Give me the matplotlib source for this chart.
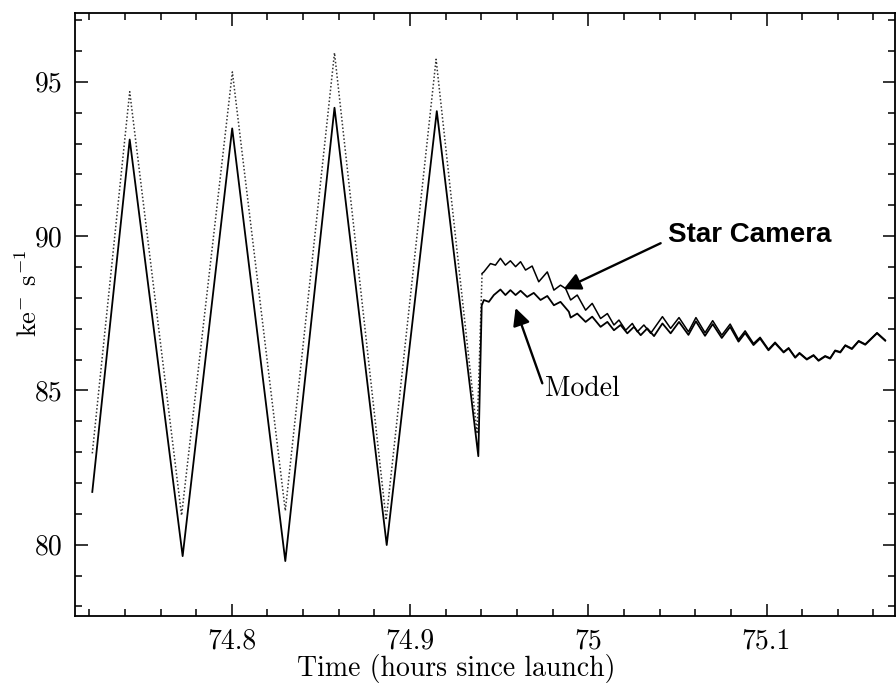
import matplotlib.pyplot as plt
from matplotlib.ticker import MultipleLocator, FuncFormatter

plt.rcParams['font.family'] = 'serif'
plt.rcParams['font.serif'] = ['cmr10']
plt.rcParams['mathtext.fontset'] = 'cm'
plt.rcParams['axes.formatter.use_mathtext'] = True

# model rate (solid line)
model_t = [74.7217, 74.7427, 74.7724, 74.8002, 74.8300, 74.8576, 74.8869, 74.9150,
           74.9383, 74.9402, 74.9414, 74.9442, 74.9470, 74.9507, 74.9535, 74.9563,
           74.9592, 74.9620, 74.9657, 74.9694, 74.9732, 74.9770, 74.9807, 74.9844,
           74.9891, 74.9901, 74.9938, 74.9985, 75.0022, 75.0069, 75.0107, 75.0144,
           75.0181, 75.0219, 75.0256, 75.0294, 75.0331, 75.0369, 75.0416, 75.0462,
           75.0509, 75.0562, 75.0604, 75.0655, 75.0698, 75.0749, 75.0796, 75.0843,
           75.0880, 75.0927, 75.0964, 75.1011, 75.1048, 75.1096, 75.1124, 75.1161,
           75.1185, 75.1226, 75.1264, 75.1292, 75.1329, 75.1357, 75.1385, 75.1414,
           75.1442, 75.1479, 75.1517, 75.1554, 75.1620, 75.1666]
model_v = [81.71, 93.13, 79.63, 93.49, 79.47, 94.16, 79.99, 94.05,
           82.87, 87.75, 87.93, 87.87, 88.09, 88.27, 88.09, 88.25,
           88.09, 88.23, 88.03, 88.16, 87.93, 88.06, 87.76, 87.87,
           87.55, 87.36, 87.49, 87.22, 87.39, 87.06, 87.22, 86.95,
           87.12, 86.85, 87.06, 86.79, 87.01, 86.76, 87.17, 86.85,
           87.22, 86.80, 87.24, 86.77, 87.15, 86.70, 87.06, 86.58,
           86.86, 86.47, 86.68, 86.30, 86.53, 86.23, 86.36, 86.06,
           86.20, 86.00, 86.13, 85.96, 86.10, 86.03, 86.28, 86.23,
           86.45, 86.34, 86.59, 86.48, 86.85, 86.61]

# star camera rate: dotted through the sawtooth, continuous after the jump
star_t = [74.7217, 74.7427, 74.7718, 74.8003, 74.8300, 74.8576, 74.8866, 74.9146,
          74.9376, 74.9404, 74.9414, 74.9451, 74.9479, 74.9507, 74.9535, 74.9563,
          74.9592, 74.9620, 74.9648, 74.9685, 74.9722, 74.9770, 74.9807, 74.9844,
          74.9873, 74.9901, 74.9938, 74.9985, 75.0022, 75.0069, 75.0107, 75.0144,
          75.0172, 75.0210, 75.0247, 75.0275, 75.0312, 75.0350, 75.0416, 75.0462,
          75.0509, 75.0562, 75.0604, 75.0655, 75.0698, 75.0749, 75.0796, 75.0843,
          75.0880, 75.0927, 75.0964, 75.1011, 75.1048, 75.1096, 75.1124, 75.1161,
          75.1185, 75.1226, 75.1264, 75.1292, 75.1329, 75.1357, 75.1385, 75.1414,
          75.1442, 75.1479, 75.1517, 75.1554, 75.1620, 75.1666]
star_v = [82.96, 94.68, 80.95, 95.32, 81.10, 95.94, 80.80, 95.73,
          83.60, 88.79, 88.84, 89.11, 89.06, 89.28, 89.06, 89.20,
          89.01, 89.17, 88.90, 89.03, 88.52, 88.84, 88.25, 88.41,
          88.30, 87.93, 88.09, 87.60, 87.82, 87.33, 87.49, 87.12,
          87.28, 86.95, 87.17, 86.90, 87.12, 86.85, 87.39, 87.01,
          87.36, 86.90, 87.36, 86.87, 87.26, 86.79, 87.15, 86.65,
          86.93, 86.52, 86.72, 86.33, 86.56, 86.25, 86.38, 86.08,
          86.22, 86.02, 86.15, 85.98, 86.12, 86.05, 86.30, 86.25,
          86.47, 86.36, 86.61, 86.50, 86.87, 86.63]
star_jump = 9  # first point after the step

fig = plt.figure(figsize=(8.96, 6.85), dpi=100)
ax = fig.add_axes([0.0837, 0.1007, 0.915, 0.8808])

ax.plot(star_t[:star_jump + 1], star_v[:star_jump + 1], color='#333333',
        lw=1.1, linestyle=(0, (1, 1.4)))
ax.plot(star_t[star_jump:], star_v[star_jump:], color='black', lw=1.1)
ax.plot(model_t, model_v, color='black', lw=1.3)

ax.set_xlim(74.712, 75.172)
ax.set_ylim(77.69, 97.24)

ax.xaxis.set_major_locator(MultipleLocator(0.1))
ax.xaxis.set_minor_locator(MultipleLocator(0.02))
ax.yaxis.set_major_locator(MultipleLocator(5))
ax.yaxis.set_minor_locator(MultipleLocator(1))
fmt = FuncFormatter(lambda v, p: f'{v:g}')
ax.xaxis.set_major_formatter(fmt)
ax.yaxis.set_major_formatter(fmt)
ax.tick_params(which='both', direction='in', top=True, right=True,
               labelsize=20, width=1.1)
ax.tick_params(which='major', length=9, pad=9)
ax.tick_params(which='minor', length=5)
for s in ax.spines.values():
    s.set_linewidth(1.3)

ax.set_xlabel('Time (hours since launch)', fontsize=20)
ax.xaxis.set_label_coords(0.465, -0.063)
ax.set_ylabel(r'ke$^{-}$ s$^{-1}$', fontsize=19)
ax.yaxis.set_label_coords(-0.04, 0.535)

# labels and their pointers
ax.text(75.0446, 90.03, 'Star Camera', fontsize=20, fontweight='bold',
        family='Liberation Sans', va='center', ha='left')
ax.annotate('', xy=(74.9861, 88.28), xytext=(75.0406, 89.77),
            arrowprops=dict(arrowstyle='-|>', color='black', lw=1.7,
                            mutation_scale=26, shrinkA=0, shrinkB=0))
ax.text(74.9755, 85.04, 'Model', fontsize=20, va='center', ha='left')
ax.annotate('', xy=(74.9592, 87.67), xytext=(74.9742, 85.23),
            arrowprops=dict(arrowstyle='-|>', color='black', lw=1.7,
                            mutation_scale=26, shrinkA=0, shrinkB=0))

fig.savefig('out.png', dpi=100)
